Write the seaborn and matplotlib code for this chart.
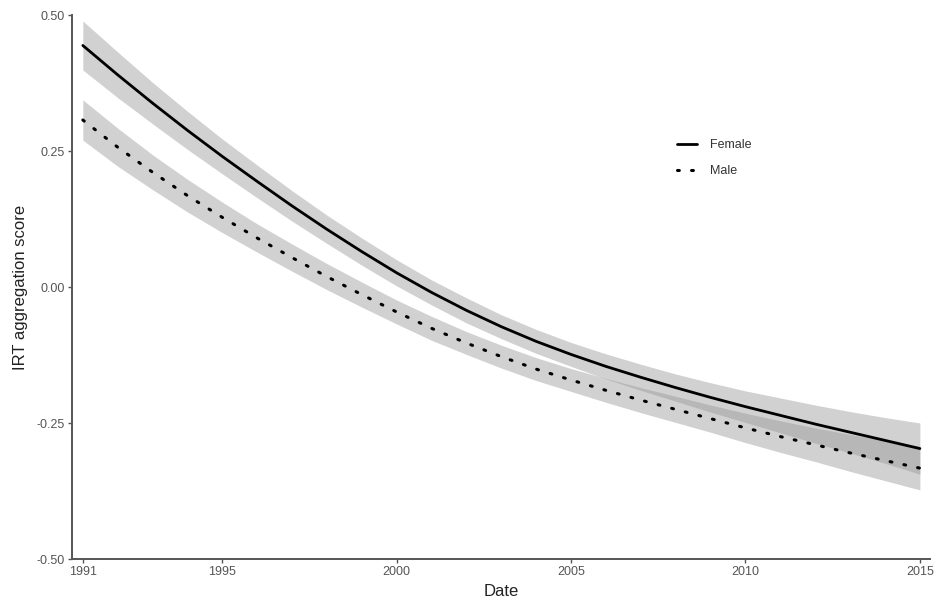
import matplotlib
matplotlib.use("Agg")
import matplotlib.pyplot as plt
import seaborn as sns
import numpy as np

# values, one per year
years = np.arange(1991, 2016)
female = [0.444, 0.390, 0.338, 0.288, 0.240, 0.194, 0.149, 0.106, 0.065, 0.026,
          -0.010, -0.043, -0.073, -0.100, -0.124, -0.146, -0.166, -0.185, -0.203,
          -0.220, -0.236, -0.252, -0.267, -0.282, -0.297]
male = [0.307, 0.257, 0.211, 0.168, 0.128, 0.090, 0.054, 0.019, -0.014, -0.046,
        -0.076, -0.103, -0.128, -0.151, -0.171, -0.190, -0.208, -0.225, -0.242,
        -0.259, -0.275, -0.290, -0.305, -0.319, -0.333]
# half width of the grey confidence bands
female_ci = [0.045, 0.042, 0.038, 0.035, 0.032, 0.030, 0.028, 0.026, 0.025, 0.024,
             0.023, 0.023, 0.022, 0.022, 0.022, 0.023, 0.024, 0.025, 0.027, 0.029,
             0.032, 0.035, 0.038, 0.042, 0.047]
male_ci = [0.037, 0.035, 0.032, 0.030, 0.028, 0.026, 0.025, 0.024, 0.023, 0.022,
           0.022, 0.021, 0.021, 0.021, 0.021, 0.022, 0.023, 0.024, 0.025, 0.027,
           0.029, 0.031, 0.034, 0.037, 0.040]

x_ticks = [1991, 1995, 2000, 2005, 2010, 2015]
y_ticks = [-0.50, -0.25, 0.00, 0.25, 0.50]

sns.set_style("white")
plt.rcParams['font.family'] = ['Liberation Sans', 'DejaVu Sans']

fig = plt.figure(figsize=(9.39, 6.04), dpi=100)
ax = fig.add_axes([72 / 939, 45 / 604, 858 / 939, 544 / 604])

f = np.array(female)
m = np.array(male)
ax.fill_between(years, f - np.array(female_ci), f + np.array(female_ci),
                color='#999999', alpha=0.45, lw=0)
ax.fill_between(years, m - np.array(male_ci), m + np.array(male_ci),
                color='#999999', alpha=0.45, lw=0)

sns.lineplot(x=years, y=female, color='black', lw=2, label='Female', ax=ax)
sns.lineplot(x=years, y=male, color='black', lw=2.2, label='Male',
             linestyle=(0, (0.6, 4.0)), dash_capstyle='round', ax=ax)

ax.set_xlim(1990.69, 2015.29)
ax.set_ylim(-0.5, 0.5)
ax.set_xticks(x_ticks)
ax.set_yticks(y_ticks)
ax.set_yticklabels([f"{v:.2f}" for v in y_ticks])

for s in ['top', 'right']:
    ax.spines[s].set_visible(False)
for s in ['left', 'bottom']:
    ax.spines[s].set_color('#555555')
    ax.spines[s].set_linewidth(1.4)
ax.tick_params(axis='both', colors='#555555', labelcolor='#555555',
               labelsize=9, length=3, width=1, pad=2, direction='out')
ax.tick_params(left=True, bottom=True)

ax.set_xlabel('Date', fontsize=12, color='#222222', labelpad=4)
ax.set_ylabel('IRT aggregation score', fontsize=12, color='#222222', labelpad=6)

ax.legend(frameon=False, loc='upper left', bbox_to_anchor=(666 / 939, 1 - 128 / 604),
          bbox_transform=fig.transFigure, fontsize=9, handlelength=1.6,
          labelspacing=1.1, handletextpad=1.0)
for t in ax.get_legend().get_texts():
    t.set_color('#333333')

fig.savefig('out.png', dpi=100)
